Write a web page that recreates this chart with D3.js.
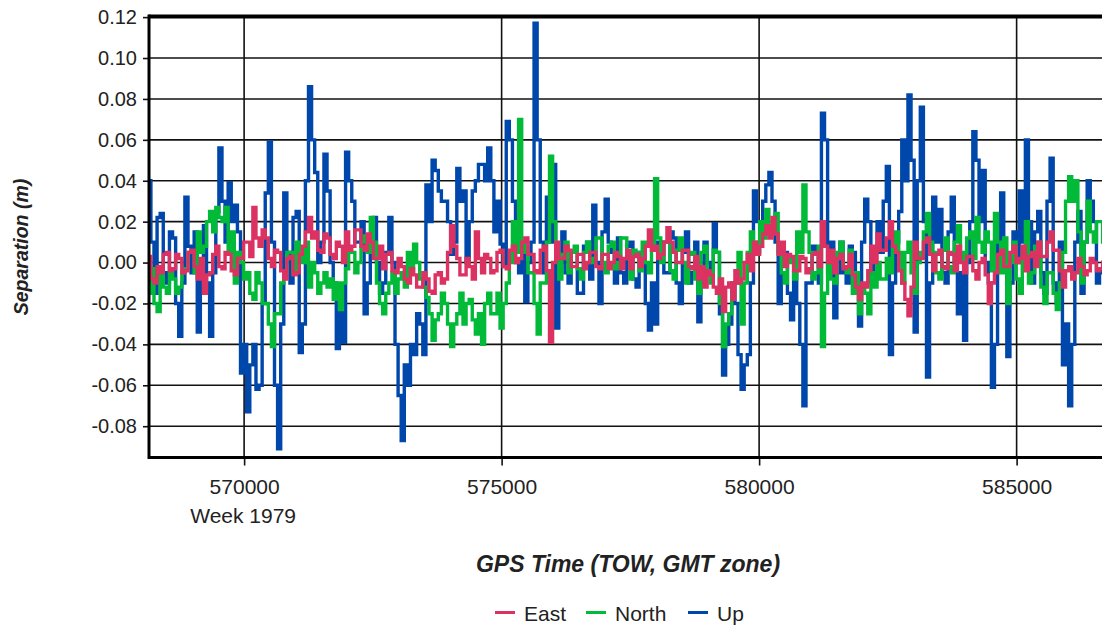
<!DOCTYPE html>
<html>
<head>
<meta charset="utf-8">
<script src="https://cdn.jsdelivr.net/npm/d3@7"></script>
<style>
  html, body { margin: 0; padding: 0; background: #fff; }
  svg { display: block; font-family: "Liberation Sans", Arial, sans-serif; }
</style>
</head>
<body>
<svg id="chart" width="1102" height="628"></svg>
<script>
// ---- data ----
const seriesNames = ["East", "North", "Up"];
const seriesColors = ["#dc3262", "#00ba38", "#0047ab"];
const yTicks = [0.12, 0.10, 0.08, 0.06, 0.04, 0.02, 0.00, -0.02, -0.04, -0.06, -0.08];
const xTicks = [570000, 575000, 580000, 585000];
const xTickLabels = ["570000", "575000", "580000", "585000"];
const weekLabel = "Week 1979";
// GPS time of week, one sample every 60 s
const tow = d3.range(568160, 586720, 60);

const east = [
  0.003,-0.008, -0.010,-0.002, -0.005,0.004, 0.005,-0.004, -0.003,0.004,
  0.002,-0.005, -0.004,0.005, 0.006,-0.002, -0.008,0.002, -0.015,-0.006,
  -0.005,0.004, 0.008,-0.002, -0.003,0.005, 0.004,-0.004, -0.006,0.002,
  0.002,0.010, 0.010,0.003, 0.027,0.012, 0.008,0.016, 0.012,0.002,
  -0.002,0.006, 0.005,-0.004, -0.008,0.002, 0.003,-0.006, -0.005,0.004,
  0.008,0.015, 0.022,0.012, 0.015,0.006, 0.005,0.014, 0.012,0.004,
  0.002,0.010, 0.008,0.000, 0.015,0.006, 0.008,0.016, 0.016,0.008,
  0.006,0.014, 0.010,0.002, 0.002,0.008, -0.003,0.004, 0.005,-0.004,
  -0.005,0.002, -0.002,-0.008, -0.010,-0.003, -0.006,-0.012, -0.012,-0.005,
  -0.008,-0.014, -0.015,-0.006, -0.005,-0.010, -0.008,0.005, 0.018,0.008,
  0.002,-0.006, -0.006,0.002, -0.002,-0.008, 0.015,0.002, -0.005,0.004,
  0.002,-0.005, -0.004,0.005, 0.006,-0.002, -0.003,0.006, 0.008,0.000,
  0.002,0.010, 0.012,0.004, 0.004,-0.004, -0.005,0.006, 0.008,-0.004,
  -0.039,0.000, 0.010,0.002, 0.002,0.008, 0.006,-0.002, -0.002,0.004,
  0.004,-0.003, 0.000,0.005, 0.005,-0.002, -0.003,0.004, 0.004,-0.003,
  0.000,0.005, 0.003,-0.003, 0.002,0.006, -0.003,0.003, 0.004,-0.002,
  0.002,0.008, 0.016,0.006, 0.008,0.002, 0.004,0.010, 0.017,0.010,
  0.005,0.000, 0.000,0.006, 0.006,-0.002, -0.003,0.003, -0.008,-0.002,
  -0.012,-0.004, -0.006,-0.012, -0.015,-0.008, -0.024,-0.012, -0.010,-0.018,
  -0.004,-0.010, -0.008,0.000, 0.004,-0.004, 0.010,0.004, 0.008,0.014,
  0.018,0.012, 0.022,0.014, 0.004,0.010, -0.002,0.004, 0.003,-0.004,
  -0.004,0.003, 0.002,-0.005, -0.003,0.004, 0.005,-0.002, 0.020,0.008,
  0.000,0.006, -0.005,0.002, 0.004,-0.003, -0.002,0.004, -0.006,-0.012,
  -0.018,-0.010, -0.012,-0.004, 0.008,0.000, 0.014,0.006, 0.006,0.012,
  0.020,0.008, 0.005,-0.004, -0.010,-0.018, -0.026,-0.012, 0.010,0.002,
  0.002,0.010, 0.012,0.004, -0.004,0.004, 0.006,-0.002, -0.003,0.005,
  0.004,-0.004, 0.008,0.000, -0.005,0.003, 0.003,-0.004, -0.008,0.000,
  0.002,-0.006, -0.020,-0.010, -0.005,0.004, 0.006,-0.002, -0.002,0.005,
  0.008,0.000, 0.002,0.008, -0.004,0.003, 0.005,-0.002, 0.010,0.003,
  0.003,0.010, 0.015,0.006, 0.006,-0.004, -0.012,-0.004, -0.002,-0.008,
  -0.005,0.002, -0.002,-0.006, -0.004,0.002, 0.000,-0.004, -0.003,0.000];

const north = [
  -0.015,-0.003, -0.020,-0.024, -0.005,-0.012, -0.015,-0.005, -0.008,-0.015,
  -0.012,-0.005, -0.003,0.005, 0.005,-0.005, 0.015,0.005, 0.008,0.020,
  0.025,0.015, 0.027,0.022, 0.020,0.027, 0.005,0.015, -0.010,0.005,
  0.000,-0.008, -0.005,-0.015, -0.018,-0.005, -0.010,-0.020, -0.020,-0.030,
  -0.041,-0.025, -0.025,-0.010, -0.005,0.005, 0.005,-0.005, 0.010,0.005,
  0.000,0.010, -0.012,0.000, -0.005,-0.015, -0.010,-0.005, -0.012,-0.008,
  -0.018,-0.010, -0.023,-0.010, -0.003,0.005, 0.005,-0.005, 0.000,0.010,
  0.013,0.005, 0.022,0.010, -0.010,-0.020, -0.025,-0.015, -0.010,-0.005,
  -0.015,-0.008, -0.005,-0.012, 0.005,-0.005, 0.009,0.000, -0.008,-0.012,
  -0.017,-0.025, -0.038,-0.028, -0.025,-0.015, -0.020,-0.030, -0.041,-0.030,
  -0.025,-0.015, -0.030,-0.020, -0.018,-0.028, -0.035,-0.025, -0.040,-0.020,
  -0.015,-0.025, -0.025,-0.015, -0.032,-0.020, -0.010,0.000, 0.020,0.005,
  0.070,0.010, 0.005,-0.005, -0.005,-0.020, -0.035,-0.010, -0.010,0.010,
  0.052,0.020, 0.005,-0.008, 0.004,0.010, -0.005,0.005, 0.008,-0.003,
  -0.008,0.005, 0.010,0.000, 0.002,0.012, 0.012,0.000, -0.005,0.008,
  0.010,-0.003, 0.000,0.012, 0.012,0.002, -0.008,0.006, 0.005,-0.004,
  0.010,0.000, -0.005,0.008, 0.041,0.012, 0.000,0.010, 0.010,-0.004,
  -0.008,0.006, 0.012,0.000, -0.010,0.004, 0.005,-0.008, -0.015,0.005,
  0.008,-0.005, -0.010,0.006, 0.005,-0.020, -0.041,-0.030, -0.025,-0.010,
  -0.010,0.005, -0.030,-0.010, 0.005,0.015, 0.010,0.005, 0.020,0.012,
  0.026,0.018, 0.015,0.024, 0.005,-0.005, -0.010,0.002, 0.000,-0.008,
  0.015,0.005, 0.038,0.015, 0.005,-0.008, -0.005,0.008, -0.041,-0.015,
  0.005,-0.008, -0.010,0.005, 0.010,-0.002, -0.005,0.006, -0.015,-0.005,
  -0.025,-0.012, -0.015,-0.025, -0.005,-0.012, 0.000,-0.008, -0.008,0.002,
  -0.005,0.008, 0.015,0.005, -0.010,0.005, 0.010,-0.005, -0.015,0.000,
  0.005,0.015, 0.024,0.010, 0.005,-0.005, -0.008,0.006, 0.012,-0.002,
  -0.005,0.010, 0.018,0.005, 0.000,0.012, 0.015,0.002, 0.022,0.010,
  0.005,0.015, 0.010,-0.004, 0.024,0.010, -0.005,0.012, -0.020,0.000,
  0.010,-0.008, -0.015,0.005, 0.020,-0.010, -0.005,0.008, 0.010,-0.012,
  -0.020,-0.005, -0.005,-0.015, -0.023,-0.010, 0.005,0.030, 0.042,0.030,
  0.040,0.015, -0.010,0.010, 0.030,0.015, 0.010,0.020, 0.020,0.010];

const up = [
  0.040,0.010, -0.015,0.022, 0.024,-0.005, -0.010,0.015, 0.012,-0.020,
  -0.036,-0.010, 0.032,0.008, -0.005,0.015, -0.034,0.000, 0.018,-0.010,
  -0.036,-0.005, 0.025,0.056, 0.030,0.010, 0.039,0.020, 0.028,0.015,
  -0.054,-0.040, -0.073,-0.050, -0.040,-0.062, -0.060,-0.020, 0.034,0.059,
  0.010,-0.060, -0.091,-0.030, 0.034,0.005, -0.010,0.022, 0.025,-0.044,
  -0.030,0.040, 0.086,0.060, 0.044,0.000, 0.010,0.053, 0.035,0.000,
  -0.010,-0.042, -0.020,-0.039, 0.054,0.040, 0.030,0.010, 0.010,0.020,
  -0.025,-0.010, 0.005,0.022, 0.000,-0.015, -0.010,0.005, 0.022,0.000,
  -0.040,-0.065, -0.087,-0.050, -0.060,-0.040, -0.045,-0.025, -0.030,-0.045,
  0.038,0.020, 0.050,0.045, 0.035,0.030, 0.030,0.020, 0.004,0.010,
  0.046,0.030, 0.035,0.000, 0.020,0.035, 0.040,0.048, 0.048,0.040,
  0.056,0.040, 0.015,0.030, 0.009,-0.002, 0.069,0.060, 0.030,0.000,
  -0.005,0.010, -0.019,0.000, 0.010,0.117, 0.060,0.010, -0.005,0.032,
  0.010,0.048, -0.032,0.000, 0.015,-0.005, -0.010,0.005, 0.005,-0.015,
  -0.015,0.008, 0.010,-0.008, 0.028,0.000, -0.020,0.015, 0.031,0.010,
  0.005,-0.010, 0.012,-0.005, -0.010,0.008, 0.010,-0.008, -0.012,0.005,
  0.005,-0.020, -0.033,-0.010, -0.030,0.010, 0.010,-0.005, -0.005,0.015,
  0.012,-0.010, -0.020,0.005, 0.015,-0.010, -0.005,0.010, -0.029,-0.010,
  0.010,0.000, -0.005,0.019, 0.005,-0.025, -0.055,-0.040, -0.030,-0.010,
  -0.020,-0.045, -0.062,-0.050, -0.045,-0.010, 0.035,0.020, 0.020,0.030,
  0.038,0.044, 0.030,0.010, -0.020,0.005, 0.005,-0.015, -0.028,-0.005,
  -0.020,-0.040, -0.070,-0.010, -0.010,0.008, 0.005,-0.010, 0.073,0.060,
  -0.005,0.010, -0.027,-0.005, 0.010,-0.005, -0.010,0.008, 0.005,-0.015,
  -0.031,0.010, 0.031,0.020, -0.010,0.005, 0.020,0.005, 0.030,0.047,
  -0.045,-0.010, 0.010,0.025, 0.060,0.040, 0.082,0.050, -0.034,0.040,
  0.076,0.020, -0.056,-0.010, 0.032,0.010, 0.026,-0.005, -0.010,0.015,
  0.032,0.000, -0.025,-0.005, -0.038,0.000, 0.020,0.064, 0.050,0.020,
  0.045,0.000, -0.010,-0.061, -0.040,0.010, 0.034,0.005, -0.046,-0.010,
  0.015,0.000, 0.035,0.010, 0.060,0.020, -0.010,0.015, 0.025,-0.005,
  -0.015,0.030, 0.051,-0.010, -0.020,0.010, -0.050,-0.030, -0.070,-0.040,
  0.010,0.025, -0.015,0.010, 0.040,0.030, 0.020,-0.010, -0.005,0.000];

const seriesValues = [east, north, up];

// ---- layout ----
const plotLeft = 149, plotTop = 16.5, plotBottom = 457.5, plotRight = 1102;
const textColor = "#222";

const svg = d3.select("#chart");

const x = d3.scaleLinear().domain([568153, 586658]).range([plotLeft, plotRight]);
const y = d3.scaleLinear().domain([-0.0953, 0.1203]).range([plotBottom, plotTop]);

svg.append("defs").append("clipPath").attr("id", "plotClip")
  .append("rect").attr("x", plotLeft).attr("y", plotTop)
  .attr("width", plotRight - plotLeft).attr("height", plotBottom - plotTop);

// grid lines
const grid = svg.append("g");
grid.selectAll("line.h").data(yTicks).join("line")
  .attr("x1", plotLeft).attr("x2", plotRight)
  .attr("y1", d => y(d)).attr("y2", d => y(d))
  .attr("stroke", "#111").attr("stroke-width", 1.6);
grid.selectAll("line.v").data(xTicks).join("line")
  .attr("x1", d => x(d)).attr("x2", d => x(d))
  .attr("y1", plotTop).attr("y2", plotBottom)
  .attr("stroke", "#111").attr("stroke-width", 1.6);

// series lines
const plot = svg.append("g").attr("clip-path", "url(#plotClip)");
const drawOrder = [2, 1, 0];
drawOrder.forEach(k => {
  const pts = tow.map((t, i) => [t, seriesValues[k][i]]).filter(d => d[1] !== undefined);
  const line = d3.line().x(d => x(d[0])).y(d => y(d[1])).curve(d3.curveStep);
  plot.append("path").datum(pts)
    .attr("d", line)
    .attr("fill", "none")
    .attr("stroke", seriesColors[k])
    .attr("stroke-width", 3.4)
    .attr("stroke-linejoin", "miter");
});

// axes
const yAxis = d3.axisLeft(y).tickValues(yTicks).tickSize(6).tickPadding(6)
  .tickFormat(d => d3.format(".2f")(d).replace("\u2212", "-"));
const yg = svg.append("g").attr("transform", `translate(${plotLeft},0)`).call(yAxis);
yg.select(".domain").remove();
yg.selectAll(".tick line").attr("stroke", "#111").attr("stroke-width", 1.6);
yg.selectAll(".tick text").attr("font-size", 20).attr("fill", textColor)
  .attr("font-family", "'Liberation Sans', Arial, sans-serif");

const xAxis = d3.axisBottom(x).tickValues(xTicks).tickSize(8).tickPadding(14)
  .tickFormat((d, i) => xTickLabels[i]);
const xg = svg.append("g").attr("transform", `translate(0,${plotBottom})`).call(xAxis);
xg.select(".domain").remove();
xg.selectAll(".tick line").attr("stroke", "#111").attr("stroke-width", 1.6);
xg.selectAll(".tick text").attr("font-size", 21).attr("fill", textColor)
  .attr("font-family", "'Liberation Sans', Arial, sans-serif");

svg.append("text").attr("x", x(xTicks[0]) - 1).attr("y", 523)
  .attr("text-anchor", "middle").attr("font-size", 21).attr("fill", textColor)
  .text(weekLabel);

// frame (thick top, left, bottom)
svg.append("line").attr("x1", plotLeft).attr("x2", plotRight).attr("y1", plotTop).attr("y2", plotTop)
  .attr("stroke", "#000").attr("stroke-width", 4);
svg.append("line").attr("x1", plotLeft).attr("x2", plotRight).attr("y1", plotBottom).attr("y2", plotBottom)
  .attr("stroke", "#000").attr("stroke-width", 3);
svg.append("line").attr("x1", plotLeft).attr("x2", plotLeft).attr("y1", plotTop - 2).attr("y2", plotBottom + 1.5)
  .attr("stroke", "#000").attr("stroke-width", 3);

// titles
svg.append("text").attr("x", 628).attr("y", 572)
  .attr("text-anchor", "middle").attr("font-size", 23).attr("font-weight", "bold")
  .attr("font-style", "italic").attr("fill", textColor)
  .text("GPS Time (TOW, GMT zone)");
svg.append("text").attr("transform", "translate(28,247) rotate(-90)")
  .attr("text-anchor", "middle").attr("font-size", 19.5).attr("font-weight", "bold")
  .attr("font-style", "italic").attr("fill", textColor)
  .text("Separation (m)");

// legend
const legendX = [495, 586, 688];
const lg = svg.append("g");
seriesNames.forEach((name, k) => {
  lg.append("line").attr("x1", legendX[k]).attr("x2", legendX[k] + 20)
    .attr("y1", 612.5).attr("y2", 612.5)
    .attr("stroke", seriesColors[k]).attr("stroke-width", 3);
  lg.append("text").attr("x", legendX[k] + 29).attr("y", 620.5)
    .attr("font-size", 21).attr("fill", textColor).text(name);
});
</script>
</body>
</html>
